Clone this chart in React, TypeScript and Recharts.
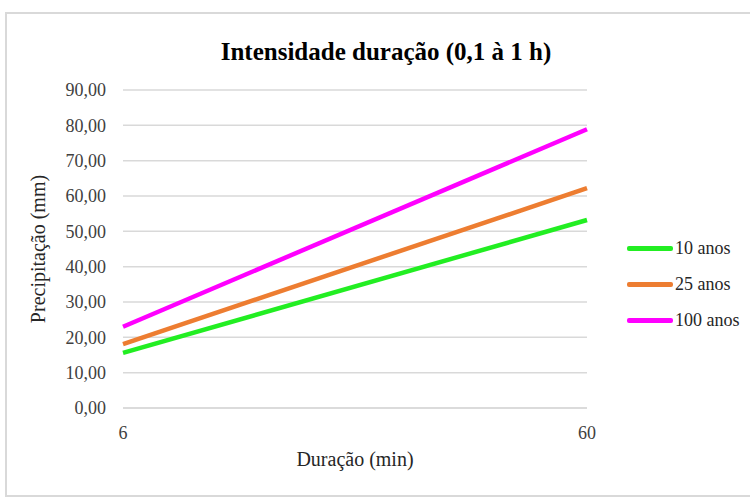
import { LineChart, Line, XAxis, YAxis, CartesianGrid } from 'recharts'

const duracoes = ['6', '60']
const anos10 = [15.6, 53.2]
const anos25 = [18.1, 62.2]
const anos100 = [23.0, 78.9]
const yTicks = [0, 10, 20, 30, 40, 50, 60, 70, 80, 90]

const series = [
  { key: 'a10', name: '10 anos', color: '#22ee22' },
  { key: 'a25', name: '25 anos', color: '#ed7d31' },
  { key: 'a100', name: '100 anos', color: '#ff00ff' },
]

const data = duracoes.map((d, i) => ({ duracao: d, a10: anos10[i], a25: anos25[i], a100: anos100[i] }))

const font = '"Liberation Serif", "Times New Roman", serif'
const fmt = (v: number) => v.toFixed(2).replace('.', ',')

export default function App() {
  return (
    <div style={{ position: 'absolute', left: 0, top: 0, width: 750, height: 497, background: '#fff', overflow: 'hidden' }}>
      <div
        style={{
          position: 'absolute', left: 5, top: 12, width: 750, height: 481,
          borderLeft: '2px solid #d9d9d9', borderTop: '2px solid #d9d9d9', borderBottom: '2px solid #d9d9d9',
        }}
      />
      <div
        style={{
          position: 'absolute', left: 0, top: 38, width: 772, textAlign: 'center',
          fontFamily: font, fontWeight: 'bold', fontSize: 25, color: '#000',
        }}
      >
        Intensidade duração (0,1 à 1 h)
      </div>
      <div style={{ position: 'absolute', left: 627, top: 230, fontFamily: font, fontSize: 18, color: '#262626' }}>
        {series.map(s => (
          <div key={s.key} style={{ display: 'flex', alignItems: 'center', height: 36 }}>
            <div style={{ width: 46, height: 5, background: s.color, borderRadius: 2, marginRight: 2 }} />
            <span>{s.name}</span>
          </div>
        ))}
      </div>
      <div style={{ position: 'absolute', left: 0, top: 0 }}>
        <LineChart width={750} height={497} data={data} margin={{ top: 90, right: 163, bottom: 29, left: 0 }}>
          <CartesianGrid vertical={false} stroke="#d9d9d9" strokeWidth={1.5} />
          <XAxis
            dataKey="duracao"
            axisLine={{ stroke: '#d9d9d9', strokeWidth: 1.5 }}
            tickLine={false}
            tickMargin={12}
            height={60}
            tick={{ fontFamily: font, fontSize: 18, fill: '#404040' }}
            label={{ value: 'Duração (min)', position: 'insideBottom', offset: 2, fontFamily: font, fontSize: 20, fill: '#262626' }}
          />
          <YAxis
            domain={[0, 90]}
            ticks={yTicks}
            interval={0}
            tickFormatter={fmt}
            width={123}
            axisLine={false}
            tickLine={false}
            tickMargin={11}
            tick={{ fontFamily: font, fontSize: 18, fill: '#404040' }}
            label={{ value: 'Precipitação (mm)', angle: -90, position: 'center', dx: -24, fontFamily: font, fontSize: 20, fill: '#262626' }}
          />
          {series.map(s => (
            <Line
              key={s.key}
              dataKey={s.key}
              name={s.name}
              stroke={s.color}
              strokeWidth={4.5}
              dot={false}
              isAnimationActive={false}
            />
          ))}
        </LineChart>
      </div>
    </div>
  )
}
